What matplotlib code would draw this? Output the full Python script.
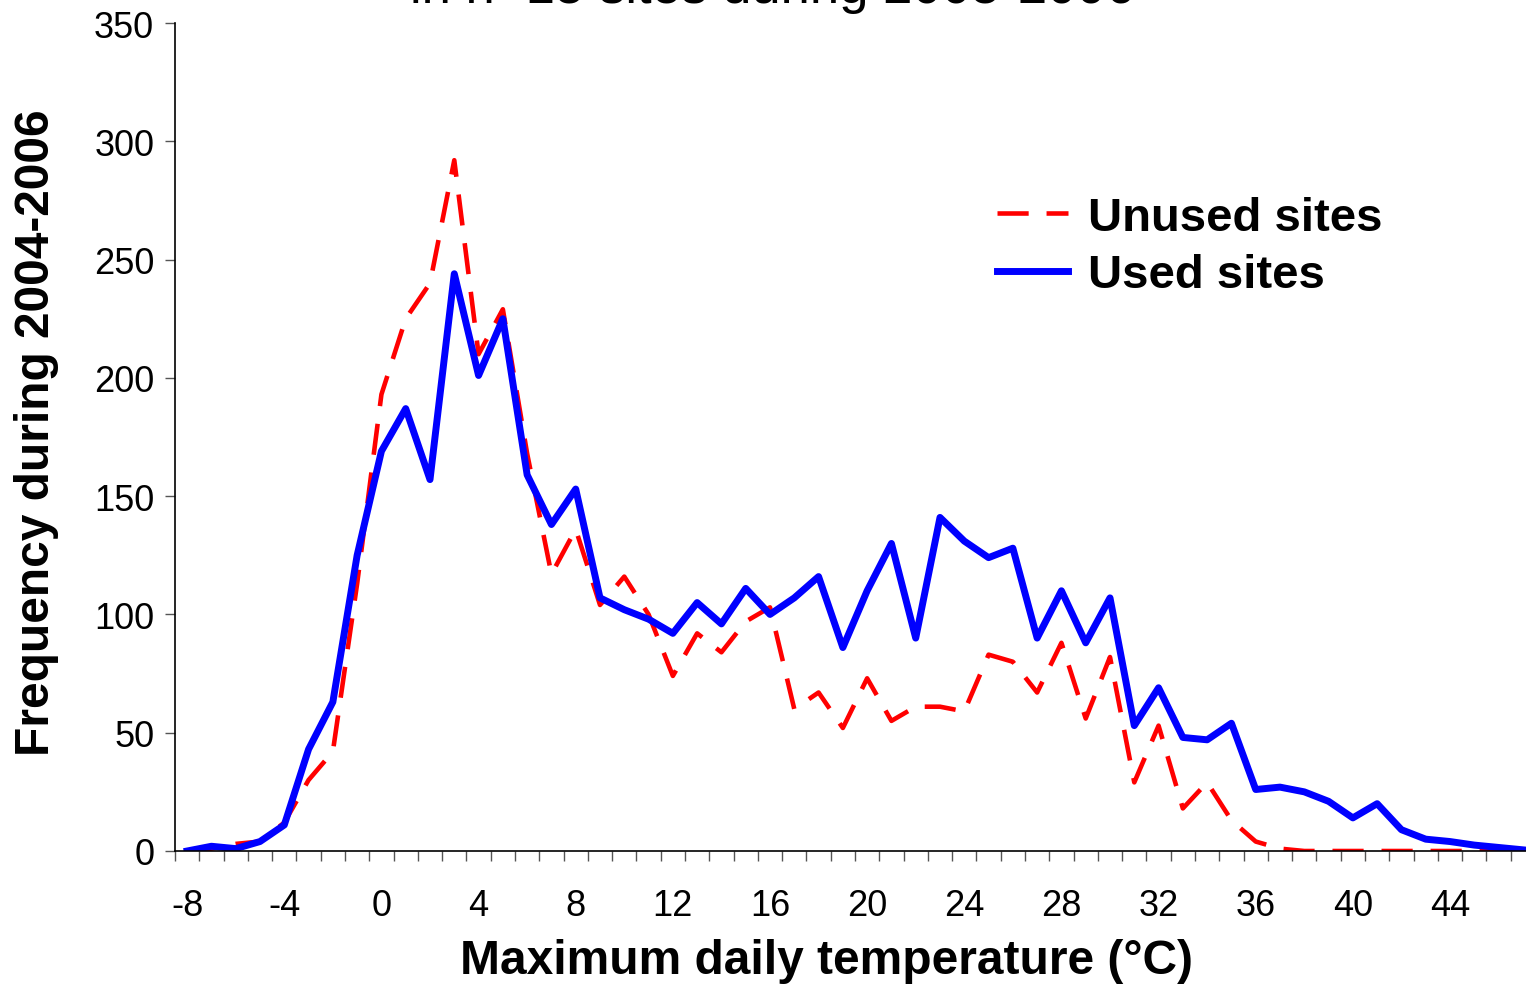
import matplotlib
matplotlib.use('Agg')
import numpy as np
from matplotlib import pyplot as plt
from matplotlib.ticker import FixedLocator

plt.rcParams['font.family'] = ['Liberation Sans', 'DejaVu Sans']
plt.rcParams['axes.unicode_minus'] = False

# temperature categories (deg C)
temps = list(range(-8, 48))

unused = [0, 1, 3, 4, 12, 30, 42, 113, 193, 225, 240, 292, 210, 229, 168, 117,
          136, 104, 116, 100, 74, 92, 84, 97, 103, 60, 67, 52, 73, 55, 61, 61,
          59, 83, 80, 67, 88, 56, 82, 29, 53, 18, 29, 13, 4, 1, 0, 0,
          0, 0, 0, 0, 0, 0, 0, 0]

used = [0, 2, 1, 4, 11, 43, 63, 125, 169, 187, 157, 244, 201, 225, 159, 138,
        153, 107, 102, 98, 92, 105, 96, 111, 100, 107, 116, 86, 110, 130, 90, 141,
        131, 124, 128, 90, 110, 88, 107, 53, 69, 48, 47, 54, 26, 27,
        25, 21, 14, 20, 9, 5, 4, 2.5, 1.5, 0.5]

xtick_vals = list(range(-8, 45, 4))
ytick_vals = list(range(0, 351, 50))

W, H = 1526, 987
fig = plt.figure(figsize=(W / 100, H / 100), dpi=100)
ax = fig.add_axes([175 / W, 135 / H, 1360 / W, 828 / H])

ax.plot(temps, unused, color='#ff0000', lw=3.3, dashes=(6.8, 3.9), label='Unused sites')
ax.plot(temps, used, color='#0000ff', lw=5, label='Used sites')

ax.set_xlim(-8.5, 47.5)
ax.set_ylim(0, 350)
for s in ['top', 'right']:
    ax.spines[s].set_visible(False)
for s in ['left', 'bottom']:
    ax.spines[s].set_linewidth(1.2)

ax.set_yticks(ytick_vals)
ax.tick_params(axis='y', labelsize=26, length=7, width=1, color='#555555', pad=8)
ax.set_xticks(xtick_vals)
ax.xaxis.set_minor_locator(FixedLocator(np.arange(-8.5, 48, 1)))
ax.tick_params(axis='x', which='major', length=0, labelsize=26, pad=27)
ax.tick_params(axis='x', which='minor', length=7, width=1, color='#555555')

fig.text(826 / W, 1 - 962 / H, 'Maximum daily temperature (\u00b0C)', fontsize=34.5,
         fontweight='bold', ha='center', va='center')
fig.text(37 / W, 1 - 433 / H, 'Frequency during 2004-2006', fontsize=34.5,
         fontweight='bold', ha='center', va='center', rotation=90)
fig.text(772 / W, 1 - 3 / H, 'in n=15 sites during 2005-2006', fontsize=38,
         ha='center', va='baseline')

ax.legend(loc='upper left', bbox_to_anchor=((978 - 175) / 1360, (852 - 178) / 828),
          frameon=False, prop={'weight': 'bold', 'size': 34},
          handlelength=1.5, handletextpad=0.42, labelspacing=0.28, borderaxespad=0)

fig.savefig('out.png', dpi=100)
